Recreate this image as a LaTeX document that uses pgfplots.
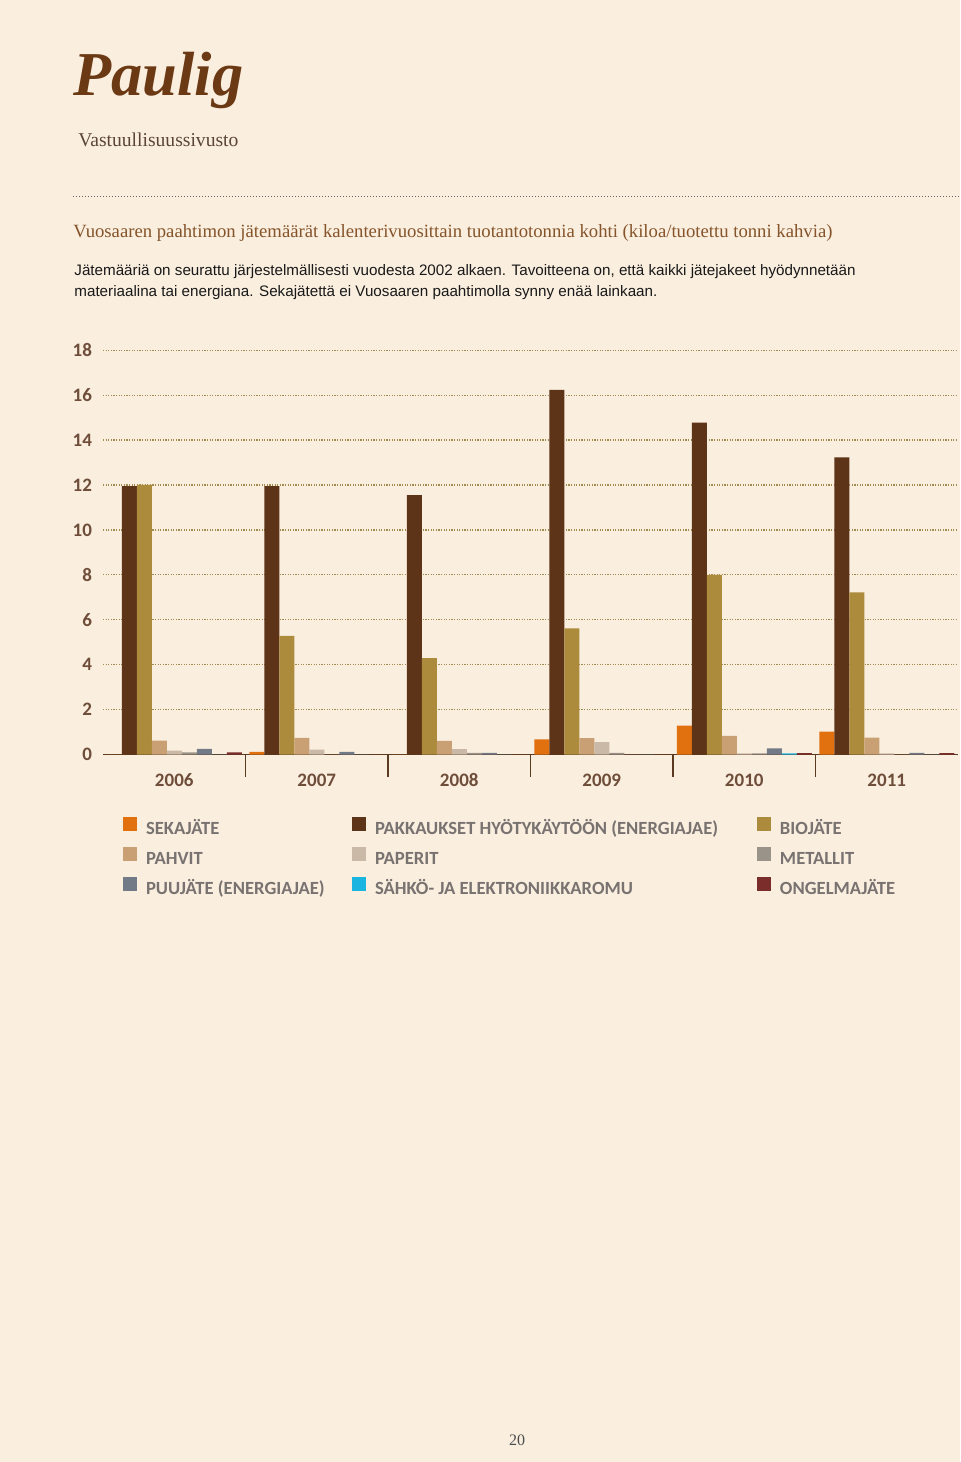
\documentclass[border=0pt]{standalone}
\usepackage{fontspec}
\setmainfont{Liberation Serif}
\newfontfamily\sansf{Liberation Sans}
\newfontfamily\carlito{Carlito}
\usepackage{pgfplots}
\usepackage{pgfplotstable}
\pgfplotsset{compat=1.18}
\definecolor{bg}{HTML}{FAEEDF}
\definecolor{cSeka}{HTML}{E1700F}
\definecolor{cPakk}{HTML}{5E3418}
\definecolor{cBio}{HTML}{AD8B3C}
\definecolor{cPahvit}{HTML}{C9A074}
\definecolor{cPaperit}{HTML}{C9B9A6}
\definecolor{cMetallit}{HTML}{9A9389}
\definecolor{cPuu}{HTML}{737A87}
\definecolor{cSahko}{HTML}{1AB4E0}
\definecolor{cOngelma}{HTML}{7A2D2A}
\definecolor{gridc}{HTML}{A08C50}
\definecolor{basec}{HTML}{5A3A20}
\definecolor{tickc}{HTML}{6E4E3A}
\definecolor{legc}{HTML}{787270}
\definecolor{logoc}{HTML}{6B3913}
\definecolor{titlec}{HTML}{85542A}
\definecolor{subc}{HTML}{5B4636}

\pgfplotstableread{
x seka pakk bio pahvit paperit metallit puu sahko ongelma
0 0    11.95 12.0 0.62 0.18 0.10 0.26 0    0.10
1 0.12 11.95 5.28 0.74 0.22 0    0.12 0    0
2 0    11.55 4.29 0.61 0.24 0.08 0.08 0    0
3 0.68 16.23 5.62 0.73 0.56 0.08 0    0    0
4 1.29 14.78 8.00 0.83 0.05 0.05 0.28 0.05 0.06
5 1.02 13.23 7.22 0.76 0.05 0    0.08 0    0.06
}\datatable

\begin{document}
\begin{tikzpicture}
\fill[bg] (0,0) rectangle (480pt,731pt);
\useasboundingbox (0,0) rectangle (480pt,731pt);

% header
\node[anchor=north west, inner sep=0pt, text=logoc] at (36.5pt,705pt)
  {\resizebox{85pt}{!}{\bfseries\itshape Paulig}};
\node[anchor=base west, inner sep=0pt, text=subc] at (39pt,657.5pt)
  {\resizebox{80pt}{!}{Vastuullisuussivusto}};
\draw[gray!80!black, line width=0.5pt, dash pattern=on 0.5pt off 1pt] (36.5pt,632.5pt) -- (480pt,632.5pt);
\node[anchor=base west, inner sep=0pt, text=titlec] at (36.5pt,612pt)
  {\resizebox{379.5pt}{!}{Vuosaaren paahtimon jätemäärät kalenterivuosittain tuotantotonnia kohti (kiloa/tuotettu tonni kahvia)}};
\node[anchor=base west, inner sep=0pt, text=black!90] at (37pt,593pt)
  {\sansf\fontsize{7.6}{9}\selectfont Jätemääriä on seurattu järjestelmällisesti vuodesta 2002 alkaen. Tavoitteena on, että kaikki jätejakeet hyödynnetään};
\node[anchor=base west, inner sep=0pt, text=black!90] at (37pt,582.5pt)
  {\sansf\fontsize{7.6}{9}\selectfont materiaalina tai energiana. Sekajätettä ei Vuosaaren paahtimolla synny enää lainkaan.};
\node[anchor=base, inner sep=0pt, text=black!70] at (258.5pt,8.5pt)
  {\fontsize{8}{10}\selectfont 20};

\begin{axis}[
  at={(51.5pt,353.7pt)}, anchor=south west,
  scale only axis, width=427.5pt, height=202.2pt,
  xmin=-0.5, xmax=5.5, ymin=0, ymax=18,
  enlargelimits=false,
  ybar=0pt, bar width=7.5pt,
  axis x line=bottom, axis y line=left,
  x axis line style={-, draw=basec, line width=0.8pt},
  y axis line style={draw=none},
  xtick={0,...,5}, xticklabels={2006,2007,2008,2009,2010,2011},
  ytick={0,2,...,18},
  major tick length=0pt,
  ytick style={draw=none},
  xtick style={draw=basec, line width=0.6pt},
  extra x ticks={0.5,1.5,2.5,3.5,4.5},
  extra x tick labels={},
  extra x tick style={major tick length=11pt, tick align=outside, grid=none},
  ymajorgrids,
  major grid style={draw=gridc, line width=0.6pt, dash pattern=on 0.6pt off 0.7pt},
  /pgf/number format/assume math mode=true,
  tick label style={font=\carlito\bfseries\fontsize{9.5}{11}\selectfont, text=tickc},
  yticklabel style={xshift=-2pt},
  xticklabel style={yshift=-6pt},
  legend columns=3,
  legend cell align=left,
  legend image code/.code={\fill[#1] (0pt,-0.5pt) rectangle (7pt,6.5pt); \path (11.5pt,0pt);},
  legend style={at={(axis description cs:0,0)}, anchor=north west,
     xshift=10pt, yshift=-31pt, draw=none, fill=none,
     inner sep=0pt, outer sep=0pt, column sep=0pt, row sep=4pt,
     nodes={inner sep=0pt, text height=7pt, text depth=2pt, text=legc,
            font=\carlito\bfseries\fontsize{9.3}{11}\selectfont}},
]
\addplot[fill=cSeka, draw=none] table[x=x, y=seka] {\datatable};
\addplot[fill=cPakk, draw=none] table[x=x, y=pakk] {\datatable};
\addplot[fill=cBio, draw=none] table[x=x, y=bio] {\datatable};
\addplot[fill=cPahvit, draw=none] table[x=x, y=pahvit] {\datatable};
\addplot[fill=cPaperit, draw=none] table[x=x, y=paperit] {\datatable};
\addplot[fill=cMetallit, draw=none] table[x=x, y=metallit] {\datatable};
\addplot[fill=cPuu, draw=none] table[x=x, y=puu] {\datatable};
\addplot[fill=cSahko, draw=none] table[x=x, y=sahko] {\datatable};
\addplot[fill=cOngelma, draw=none] table[x=x, y=ongelma] {\datatable};
\legend{\makebox[103pt][l]{SEKAJÄTE},
        \makebox[191pt][l]{PAKKAUKSET HYÖTYKÄYTÖÖN (ENERGIAJAE)},
        BIOJÄTE,
        \makebox[103pt][l]{PAHVIT},
        \makebox[191pt][l]{PAPERIT},
        METALLIT,
        \makebox[103pt][l]{PUUJÄTE (ENERGIAJAE)},
        \makebox[191pt][l]{SÄHKÖ- JA ELEKTRONIIKKAROMU},
        ONGELMAJÄTE}
\end{axis}
\end{tikzpicture}
\end{document}
